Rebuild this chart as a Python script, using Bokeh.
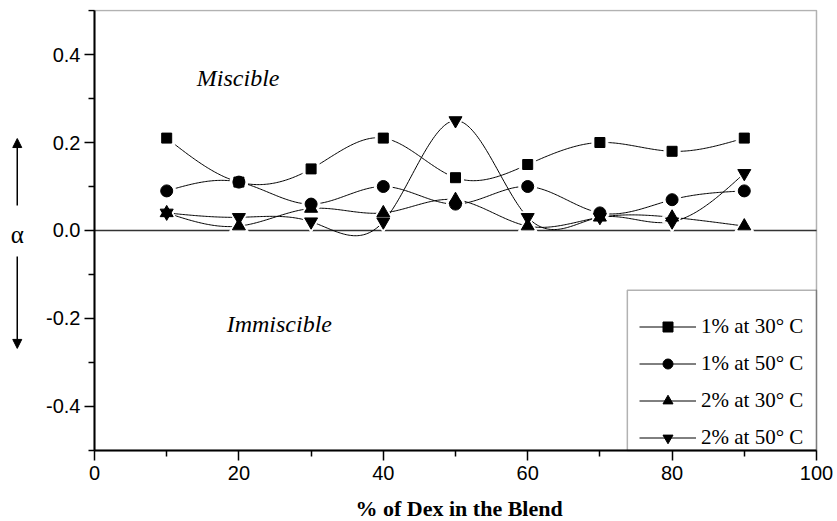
import numpy as np
from bokeh.plotting import figure
from bokeh.models import (Range1d, FixedTicker, PrintfTickFormatter, Label, Arrow,
                          NormalHead, Legend, LegendItem, BoxAnnotation)
from bokeh.embed import file_html
from bokeh.resources import INLINE

# ---------------- data ----------------
dex = [10, 20, 30, 40, 50, 60, 70, 80, 90]
s1_30 = [0.21, 0.11, 0.14, 0.21, 0.12, 0.15, 0.20, 0.18, 0.21]
s1_50 = [0.09, 0.11, 0.06, 0.10, 0.06, 0.10, 0.04, 0.07, 0.09]
s2_30 = [0.04, 0.01, 0.05, 0.04, 0.07, 0.01, 0.03, 0.03, 0.01]
s2_50 = [0.04, 0.03, 0.02, 0.02, 0.25, 0.03, 0.03, 0.02, 0.13]
series_names = ["1% at 30° C", "1% at 50° C", "2% at 30° C", "2% at 50° C"]
x_ticks = [0, 20, 40, 60, 80, 100]
y_ticks = [-0.4, -0.2, 0.0, 0.2, 0.4]
x_title = "% of Dex in the Blend"
y_title = "α"
X_LO, X_HI = 0, 100
Y_LO, Y_HI = -0.5, 0.5

SERIF = "Liberation Serif"
SANS = "Liberation Sans"


def natural_spline(x, y, n=400):
    x = np.asarray(x, float)
    y = np.asarray(y, float)
    m = len(x)
    h = np.diff(x)
    A = np.zeros((m, m))
    b = np.zeros(m)
    A[0, 0] = 1.0
    A[-1, -1] = 1.0
    for i in range(1, m - 1):
        A[i, i - 1] = h[i - 1]
        A[i, i] = 2 * (h[i - 1] + h[i])
        A[i, i + 1] = h[i]
        b[i] = 3 * ((y[i + 1] - y[i]) / h[i] - (y[i] - y[i - 1]) / h[i - 1])
    c = np.linalg.solve(A, b)
    xs = np.linspace(x[0], x[-1], n)
    idx = np.clip(np.searchsorted(x, xs, side="right") - 1, 0, m - 2)
    dx = xs - x[idx]
    bi = (y[idx + 1] - y[idx]) / h[idx] - h[idx] * (2 * c[idx] + c[idx + 1]) / 3
    di = (c[idx + 1] - c[idx]) / (3 * h[idx])
    ys = y[idx] + bi * dx + c[idx] * dx ** 2 + di * dx ** 3
    return xs, ys


# The frame covers the whole canvas except a thin top border; both axes are
# pinned at the plot box so the α label, arrows and x title sit around them.
p = figure(width=837, height=521, output_backend="svg", toolbar_location=None,
           x_range=Range1d(-13.02, 102.91), y_range=Range1d(-0.6614, 0.5023),
           min_border_left=0, min_border_right=0, min_border_top=9, min_border_bottom=0)
p.background_fill_color = "white"
p.border_fill_color = "white"
p.xgrid.visible = False
p.ygrid.visible = False
p.outline_line_color = None

p.xaxis.ticker = FixedTicker(ticks=x_ticks, minor_ticks=[10, 30, 50, 70, 90])
p.yaxis.ticker = FixedTicker(ticks=y_ticks, minor_ticks=[-0.5, -0.3, -0.1, 0.1, 0.3, 0.5])
p.yaxis.formatter = PrintfTickFormatter(format="%.1f")
p.xaxis.bounds = (X_LO, X_HI)
p.yaxis.bounds = (Y_LO, Y_HI)
p.yaxis.fixed_location = X_LO
p.xaxis.fixed_location = Y_LO
for ax in (p.xaxis[0], p.yaxis[0]):
    ax.axis_line_width = 2
    ax.axis_line_color = "black"
    ax.major_tick_line_color = "black"
    ax.minor_tick_line_color = "black"
    ax.major_tick_line_width = 1.5
    ax.minor_tick_line_width = 1.5
    ax.major_tick_out = 10
    ax.major_tick_in = 0
    ax.minor_tick_out = 6
    ax.minor_tick_in = 0
    ax.major_label_text_font = SANS
    ax.major_label_text_font_size = "20px"
    ax.major_label_text_color = "black"

p.xaxis.major_label_standoff = 6
p.yaxis.major_label_standoff = 4

# axis titles
p.add_layout(Label(x=50.5, y=-0.6318, text=x_title, text_font=SERIF, text_color="black",
                   text_font_style="bold", text_font_size="22px", text_align="center",
                   text_baseline="alphabetic"))
p.add_layout(Label(x=-10.7, y=-0.009, text=y_title, text_font=SERIF, text_color="black",
                   text_font_size="25px", text_align="center", text_baseline="alphabetic"))

# plot box (top and right edges) and zero line
p.add_layout(BoxAnnotation(left=X_LO, right=X_HI, top=Y_HI, bottom=Y_LO, fill_alpha=0,
                           line_color="black", line_width=1.5))
p.line([X_LO, X_HI], [0, 0], line_color="#333333", line_width=1.5)

all_series = [s1_30, s1_50, s2_30, s2_50]
markers = ["square", "circle", "triangle", "inverted_triangle"]
sizes = [10, 12, 13, 13]

line_rs = []
for ys in all_series:
    sx, sy = natural_spline(dex, ys)
    line_rs.append(p.line(sx, sy, line_color="black", line_width=1))

for ys, mk, sz in zip(all_series, markers, sizes):
    p.scatter(dex, ys, marker=mk, size=sz + 6, fill_color="white", line_color="white")
mark_rs = []
for ys, mk, sz in zip(all_series, markers, sizes):
    mark_rs.append(p.scatter(dex, ys, marker=mk, size=sz, fill_color="black",
                             line_color="black"))

items = [LegendItem(label=nm, renderers=[lr, mr])
         for nm, lr, mr in zip(series_names, line_rs, mark_rs)]
legend = Legend(items=items, location=(639, 71), margin=0, padding=5, spacing=12,
                glyph_width=57, glyph_height=25, label_height=25, label_standoff=5,
                label_text_font=SERIF, label_text_font_size="21px", label_text_color="black",
                border_line_color=None, background_fill_alpha=0)
p.add_layout(legend, "center")
p.add_layout(BoxAnnotation(left=73.8, right=X_HI, top=-0.136, bottom=Y_LO,
                           fill_alpha=0, line_color="black", line_width=1.5, level="overlay"))

p.add_layout(Label(x=19.9, y=0.3465, text="Miscible", text_font=SERIF, text_color="black",
                   text_font_style="italic", text_font_size="24px", text_align="center",
                   text_baseline="alphabetic"))
p.add_layout(Label(x=25.6, y=-0.2135, text="Immiscible", text_font=SERIF, text_color="black",
                   text_font_style="italic", text_font_size="24px", text_align="center",
                   text_baseline="alphabetic"))

ax_x = -10.7
p.add_layout(Arrow(end=NormalHead(size=9, fill_color="black", line_color="black"),
                   x_start=ax_x, y_start=0.057, x_end=ax_x, y_end=0.209,
                   line_color="black", line_width=1.5))
p.add_layout(Arrow(end=NormalHead(size=9, fill_color="black", line_color="black"),
                   x_start=ax_x, y_start=-0.059, x_end=ax_x, y_end=-0.268,
                   line_color="black", line_width=1.5))

open("out.html", "w").write(file_html(p, INLINE))
